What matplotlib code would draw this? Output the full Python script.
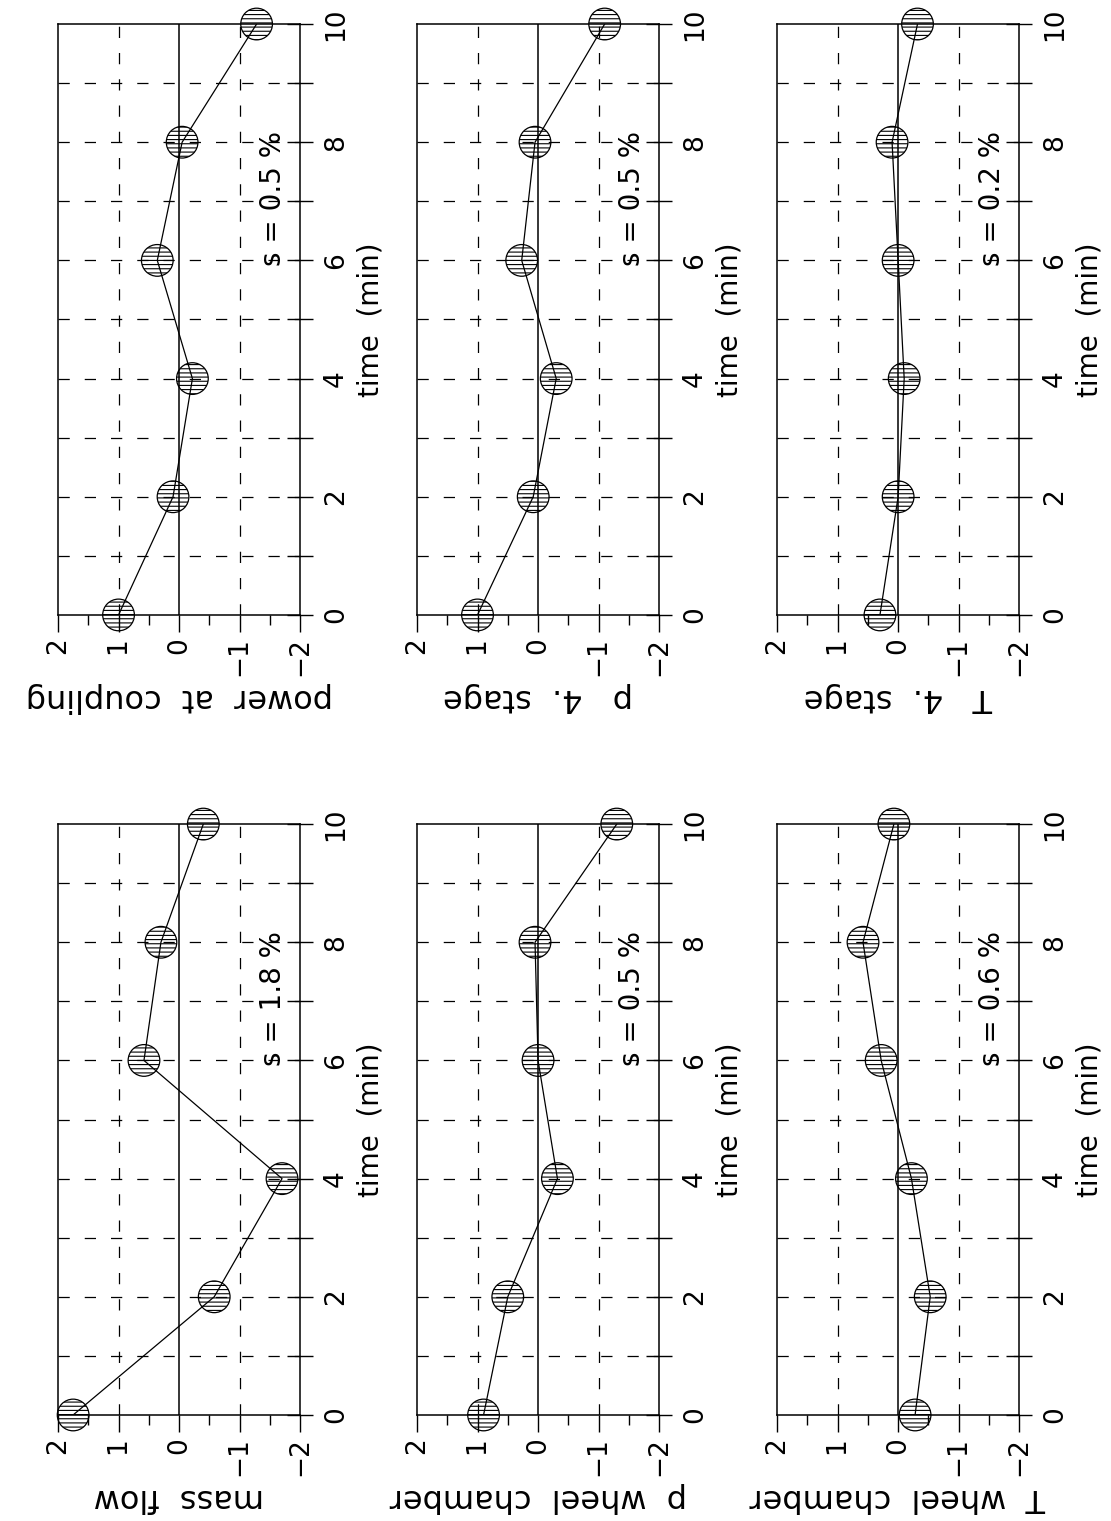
import matplotlib
matplotlib.use('Agg')
import matplotlib.pyplot as plt
from matplotlib.ticker import MultipleLocator

### DATA ###
times = [0, 2, 4, 6, 8, 10]  # min

mass_flow = [1.75, -0.58, -1.70, 0.58, 0.30, -0.40]
power_coupling = [1.0, 0.10, -0.22, 0.36, -0.05, -1.28]
p_wheel_chamber = [0.90, 0.50, -0.32, 0.0, 0.05, -1.30]
p_stage4 = [1.0, 0.08, -0.30, 0.27, 0.05, -1.10]
T_wheel_chamber = [-0.28, -0.53, -0.22, 0.28, 0.58, 0.07]
T_stage4 = [0.30, 0.0, -0.10, 0.0, 0.10, -0.32]

s_mass_flow = 1.8
s_power_coupling = 0.5
s_p_wheel_chamber = 0.5
s_p_stage4 = 0.5
s_T_wheel_chamber = 0.6
s_T_stage4 = 0.2

value_ticks = [2, 1, 0, -1, -2]
time_ticks = list(range(0, 11))

### FIGURE ###
# the page is scanned sideways, so the value axis runs horizontally
# (2 on the left, -2 on the right) and time runs upwards
plt.rcParams['font.family'] = 'DejaVu Sans'
plt.rcParams['hatch.linewidth'] = 0.8

fig = plt.figure(figsize=(11.11, 15.21), dpi=100)

col_left = [0.0522, 0.3753, 0.6994]
col_width = 0.2180
row_bottom = [0.5957, 0.0697]
row_height = 0.3885

panels = [
    (power_coupling, 'power  at  coupling', s_power_coupling, 0, 0),
    (p_stage4, 'p   4.  stage', s_p_stage4, 0, 1),
    (T_stage4, 'T   4.  stage', s_T_stage4, 0, 2),
    (mass_flow, 'mass  flow', s_mass_flow, 1, 0),
    (p_wheel_chamber, 'p  wheel  chamber', s_p_wheel_chamber, 1, 1),
    (T_wheel_chamber, 'T  wheel  chamber', s_T_wheel_chamber, 1, 2),
]

dash = (0, (9, 12))

for values, label, s_val, row, col in panels:
    ax = fig.add_axes([col_left[col], row_bottom[row], col_width, row_height])
    ax.set_xlim(2, -2)
    ax.set_ylim(0, 10)

    # grid
    ax.axvline(0, color='black', lw=1.1, zorder=1)
    for v in (1, -1):
        ax.axvline(v, color='black', lw=0.9, ls=dash, zorder=1)
    for t in range(1, 10):
        ax.axhline(t, color='black', lw=0.9, ls=dash, zorder=1)

    # data
    ax.plot(values, times, color='black', lw=0.9, zorder=2)
    ax.scatter(values, times, s=520, facecolors='none', edgecolors='black',
               hatch='----', linewidths=0.9, zorder=3, clip_on=False)

    # value axis (bottom)
    ax.set_xticks(value_ticks)
    ax.set_xticklabels([str(v).replace('-', '\u2212') for v in value_ticks], rotation=90)
    ax.xaxis.set_minor_locator(MultipleLocator(0.5))
    ax.tick_params(axis='x', which='major', direction='out', length=12, width=1,
                   pad=4, labelsize=19)
    ax.tick_params(axis='x', which='minor', direction='out', length=7, width=1)

    # time axis (right)
    ax.yaxis.tick_right()
    ax.set_yticks(time_ticks)
    ax.set_yticklabels([str(t) if t % 2 == 0 else '' for t in time_ticks],
                       rotation=90, va='center')
    ax.tick_params(axis='y', which='major', direction='inout', length=19, width=1,
                   pad=7, labelsize=19)

    for sp in ax.spines.values():
        sp.set_linewidth(1.1)

    ax.set_xlabel(label, rotation=180, fontsize=23)
    ax.xaxis.set_label_coords(0.5, -0.14)
    ax.xaxis.label.set_va('center')

    ax.yaxis.set_label_position('right')
    ax.set_ylabel('time  (min)', rotation=90, fontsize=20)
    ax.yaxis.set_label_coords(1.29, 0.5)
    ax.yaxis.label.set_va('center')
    ax.yaxis.label.set_ha('center')

    ax.text(-1.55, 7.05, 's = %.1f %%' % s_val, rotation=90,
            ha='center', va='center', fontsize=20, zorder=4)

fig.savefig('out.png', dpi=100)
